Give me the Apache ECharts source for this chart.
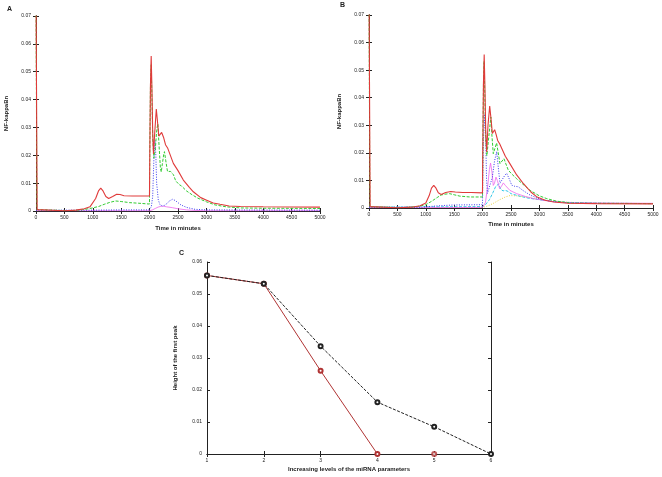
<!DOCTYPE html>
<html>
<head>
<meta charset="utf-8">
<script src="https://cdn.jsdelivr.net/npm/echarts@6/dist/echarts.min.js"></script>
<style>
  html, body { margin: 0; padding: 0; background: #fff; }
  #chart { width: 662px; height: 477px; }
</style>
</head>
<body>
<div id="chart"></div>
<script>
// panel A: [time, NF-kappaBn]
var aRed = [[0,0.08],[20,0.0005],[500,0.0001],[700,0.0003],[850,0.0008],[950,0.0015],[1050,0.0045],[1100,0.0072],[1140,0.0082],[1180,0.0072],[1230,0.0052],[1280,0.0045],[1350,0.0052],[1420,0.006],[1480,0.0059],[1550,0.0055],[1700,0.0054],[1850,0.0054],[1998,0.0054],[2003,0.02],[2015,0.045],[2028,0.0556],[2040,0.045],[2055,0.028],[2068,0.0205],[2090,0.028],[2118,0.0366],[2135,0.033],[2162,0.0269],[2185,0.0268],[2212,0.0282],[2245,0.0265],[2280,0.0238],[2320,0.0225],[2418,0.0171],[2500,0.0145],[2594,0.0111],[2700,0.0085],[2770,0.0069],[2900,0.0048],[3005,0.0039],[3120,0.0029],[3240,0.0024],[3400,0.0018],[3600,0.0016],[4000,0.0015],[5000,0.0014]];
var aGreen = [[0,0.08],[15,0.0005],[600,0.0001],[800,0.0004],[950,0.0009],[1100,0.0016],[1200,0.0024],[1300,0.0031],[1400,0.0036],[1500,0.0034],[1650,0.003],[1800,0.0028],[1998,0.0025],[2003,0.02],[2015,0.045],[2028,0.0525],[2040,0.042],[2055,0.026],[2075,0.019],[2100,0.022],[2125,0.029],[2145,0.0313],[2165,0.024],[2190,0.0155],[2205,0.014],[2225,0.017],[2250,0.0205],[2262,0.0213],[2285,0.018],[2315,0.0142],[2340,0.0138],[2370,0.0142],[2395,0.0145],[2420,0.013],[2460,0.0108],[2520,0.0095],[2560,0.009],[2650,0.0072],[2750,0.0058],[2850,0.0046],[3000,0.0033],[3150,0.0022],[3350,0.0015],[3600,0.0011],[4000,0.001],[5000,0.0009]];
var aBlue = [[0,0.0003],[1000,0.0003],[1500,0.0004],[1990,0.0004],[2030,0.0015],[2054,0.0051],[2077,0.0195],[2095,0.0254],[2110,0.02],[2124,0.01],[2153,0.004],[2180,0.0024],[2220,0.0018],[2260,0.002],[2300,0.0026],[2350,0.0036],[2400,0.0042],[2450,0.0038],[2500,0.003],[2550,0.0022],[2650,0.0013],[2800,0.0006],[3000,0.0004],[5000,0.0003]];
var aMagenta = [[0,0.0001],[2000,0.0001],[2050,0.0004],[2100,0.0009],[2150,0.0014],[2200,0.0017],[2250,0.0017],[2300,0.0015],[2400,0.0012],[2500,0.0008],[2650,0.0004],[2800,0.0002],[3000,0.0001],[5000,0.0001]];

// panel B
var bRed = [[0,0.08],[20,0.0005],[500,0.0001],[750,0.0003],[900,0.0008],[1000,0.0018],[1060,0.0045],[1100,0.0072],[1140,0.0082],[1180,0.0072],[1220,0.0055],[1270,0.0049],[1350,0.0056],[1440,0.006],[1520,0.0058],[1650,0.0056],[1800,0.0056],[1998,0.0055],[2003,0.02],[2015,0.045],[2028,0.0557],[2040,0.045],[2055,0.028],[2072,0.0203],[2095,0.03],[2125,0.037],[2145,0.033],[2172,0.027],[2190,0.0272],[2212,0.0284],[2240,0.0265],[2265,0.0245],[2300,0.0233],[2400,0.0188],[2480,0.0161],[2600,0.012],[2720,0.0088],[2850,0.0058],[2950,0.0041],[3100,0.0028],[3250,0.0022],[3500,0.0017],[4000,0.0016],[5000,0.0015]];
var bGreen = [[0,0.08],[15,0.0005],[600,0.0001],[850,0.0005],[1000,0.0012],[1100,0.0024],[1200,0.0038],[1270,0.0047],[1330,0.005],[1420,0.0052],[1500,0.0048],[1600,0.0043],[1776,0.004],[1998,0.004],[2003,0.02],[2015,0.045],[2026,0.0532],[2040,0.04],[2055,0.025],[2075,0.019],[2110,0.026],[2145,0.033],[2165,0.026],[2188,0.0197],[2215,0.02],[2247,0.0236],[2275,0.02],[2306,0.0161],[2340,0.0168],[2376,0.0179],[2410,0.016],[2453,0.0137],[2520,0.0122],[2600,0.0106],[2700,0.0088],[2835,0.0064],[3000,0.0044],[3130,0.0034],[3300,0.0025],[3541,0.0018],[4000,0.0017],[5000,0.0016]];
var bBlue = [[0,0.0003],[900,0.0003],[1100,0.0006],[1300,0.0009],[1500,0.0011],[1998,0.0012],[2003,0.01],[2015,0.025],[2040,0.034],[2055,0.025],[2070,0.01],[2085,0.0053],[2120,0.006],[2170,0.011],[2210,0.017],[2248,0.0204],[2275,0.015],[2306,0.009],[2340,0.0095],[2390,0.0118],[2424,0.0126],[2470,0.0105],[2512,0.0083],[2560,0.0079],[2629,0.0077],[2700,0.0065],[2835,0.0047],[3000,0.0033],[3200,0.0024],[3500,0.0019],[4000,0.0017],[5000,0.0016]];
var bMagenta = [[0,0.0001],[1998,0.0002],[2050,0.002],[2090,0.008],[2120,0.014],[2140,0.0163],[2165,0.013],[2188,0.0082],[2210,0.009],[2235,0.0112],[2260,0.01],[2300,0.007],[2330,0.0078],[2365,0.0091],[2400,0.0082],[2480,0.0064],[2600,0.0052],[2750,0.0042],[2900,0.0034],[3100,0.0027],[3400,0.002],[4000,0.0018],[5000,0.0017]];
var bCyan = [[0,0.0003],[1998,0.0005],[2050,0.0012],[2120,0.003],[2180,0.0055],[2230,0.0078],[2280,0.0087],[2320,0.0068],[2360,0.0062],[2400,0.0064],[2450,0.006],[2500,0.0052],[2650,0.0043],[2800,0.0036],[3000,0.003],[3300,0.0023],[3600,0.0019],[4000,0.0017],[5000,0.0016]];
var bYellow = [[0,0.0002],[2000,0.0002],[2100,0.0008],[2200,0.0018],[2300,0.003],[2400,0.004],[2480,0.0045],[2600,0.0044],[2750,0.004],[2900,0.0034],[3100,0.0028],[3400,0.0022],[3800,0.0018],[5000,0.0016]];

// panel C
var cLevels = [1, 2, 3, 4, 5, 6];
var cBlack = [0.0558, 0.0532, 0.0337, 0.0162, 0.0085, 0];
var cRed = [0.0558, 0.0532, 0.026, 0, 0];

var font = 'Liberation Sans';
var ink = '#222';

function xAx(grid, min, max, step, name, gap) {
  return [{
    type: 'value', gridIndex: grid, min: min, max: max, interval: step,
    name: name, nameLocation: 'middle', nameGap: gap,
    nameTextStyle: { fontFamily: font, fontSize: 6, fontWeight: 'bold', color: ink },
    axisLine: { lineStyle: { color: ink, width: 1 } },
    axisTick: { inside: true, length: 3, lineStyle: { color: ink } },
    axisLabel: { fontFamily: font, fontSize: 5, color: ink, margin: 4,
      formatter: function (v) { return String(v); } },
    splitLine: { show: false }
  }, {
    type: 'value', gridIndex: grid, position: 'top', min: min, max: max, interval: step,
    axisLine: { lineStyle: { color: ink, width: 1 } },
    axisTick: { inside: true, length: 3, lineStyle: { color: ink } },
    axisLabel: { show: false }, splitLine: { show: false }
  }];
}

function yAx(grid, max, name, gap) {
  return [{
    type: 'value', gridIndex: grid, min: 0, max: max, interval: 0.01,
    name: name, nameLocation: 'middle', nameGap: gap, nameRotate: 90,
    nameTextStyle: { fontFamily: font, fontSize: 6, fontWeight: 'bold', color: ink },
    axisLine: { show: true, lineStyle: { color: ink, width: 1 } },
    axisTick: { show: true, inside: true, length: 3, lineStyle: { color: ink } },
    axisLabel: { fontFamily: font, fontSize: 5, color: ink, margin: 5 },
    splitLine: { show: false }
  }, {
    type: 'value', gridIndex: grid, position: 'right', min: 0, max: max, interval: 0.01,
    axisLine: { show: true, lineStyle: { color: ink, width: 1 } },
    axisTick: { show: true, inside: true, length: 3, lineStyle: { color: ink } },
    axisLabel: { show: false }, splitLine: { show: false }
  }];
}

function curve(data, grid, color, dash, w) {
  return {
    type: 'line', xAxisIndex: grid * 2, yAxisIndex: grid * 2, data: data,
    showSymbol: false, clip: true, silent: true,
    lineStyle: { color: color, width: w || 1, type: dash || 'solid' }
  };
}

var chart = echarts.init(document.getElementById('chart'));
chart.setOption({
  animation: false,
  backgroundColor: '#fff',
  grid: [
    { left: 36, top: 16, width: 284, height: 195 },
    { left: 369, top: 15, width: 284, height: 193 },
    { left: 207, top: 262, width: 284, height: 192 }
  ],
  xAxis: [].concat(
    xAx(0, 0, 5000, 500, 'Time in minutes', 14),
    xAx(1, 0, 5000, 500, 'Time in minutes', 13),
    xAx(2, 1, 6, 1, 'Increasing levels of the miRNA parameters', 12)
  ),
  yAxis: [].concat(
    yAx(0, 0.07, 'NF-kappaBn', 27),
    yAx(1, 0.07, 'NF-kappaBn', 27),
    yAx(2, 0.06, 'Height of the first peak', 29)
  ),
  graphic: [
    { type: 'text', left: 7, top: 6, style: { text: 'A', font: 'bold 7px ' + font, fill: ink } },
    { type: 'text', left: 340, top: 2, style: { text: 'B', font: 'bold 7px ' + font, fill: ink } },
    { type: 'text', left: 179, top: 250, style: { text: 'C', font: 'bold 7px ' + font, fill: ink } }
  ],
  series: [
    curve(aMagenta, 0, '#ee66ee', 'solid', 0.8),
    curve(aBlue, 0, '#3a3aee', [1, 1.5], 1),
    curve(aGreen, 0, '#33cc33', [3, 1.5], 1),
    curve(aRed, 0, '#e03a3a', 'solid', 1.1),

    curve(bYellow, 1, '#e8d040', [1, 1.5], 1),
    curve(bCyan, 1, '#33c8e8', [3, 1.5], 1),
    curve(bMagenta, 1, '#ee66ee', 'solid', 0.8),
    curve(bBlue, 1, '#3a3aee', [1, 1.5], 1),
    curve(bGreen, 1, '#33cc33', [3, 1.5], 1),
    curve(bRed, 1, '#e03a3a', 'solid', 1.1),

    {
      type: 'line', xAxisIndex: 4, yAxisIndex: 4, silent: true,
      data: cRed.slice(0, 4).map(function (v, i) { return [cLevels[i], v]; }),
      symbol: 'emptyCircle', symbolSize: 4,
      lineStyle: { color: '#b03434', width: 1 }, itemStyle: { color: '#b03434', borderWidth: 1 }
    },
    {
      type: 'scatter', xAxisIndex: 4, yAxisIndex: 4, silent: true,
      data: [[cLevels[4], cRed[4]]],
      symbol: 'emptyCircle', symbolSize: 4,
      itemStyle: { color: '#b03434', borderWidth: 1 }
    },
    {
      type: 'line', xAxisIndex: 4, yAxisIndex: 4, silent: true, z: 3,
      data: cBlack.map(function (v, i) { return [cLevels[i], v]; }),
      symbol: 'emptyCircle', symbolSize: 4,
      lineStyle: { color: '#222', width: 1, type: [3, 1.5] }, itemStyle: { color: '#222', borderWidth: 1 }
    }
  ]
});
</script>
</body>
</html>
